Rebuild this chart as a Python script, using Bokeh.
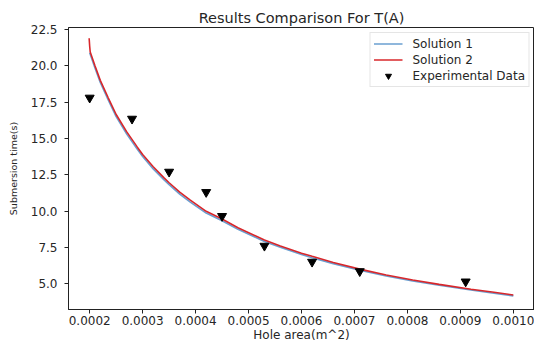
from bokeh.plotting import figure
from bokeh.models import Range1d, FixedTicker, NumeralTickFormatter, Legend, LegendItem
from bokeh.embed import file_html
from bokeh.resources import INLINE

# Solution 1 (blue)
area_sol1 = [0.00020, 0.00021, 0.00022, 0.000235, 0.00025, 0.00027, 0.00029, 0.00030,
             0.00032, 0.00034, 0.00035, 0.00037, 0.00039, 0.00042, 0.00045, 0.00048,
             0.00053, 0.00056, 0.00060, 0.00062, 0.00066, 0.00071, 0.00076, 0.00081,
             0.00086, 0.00092, 0.00096, 0.00100]
time_sol1 = [20.9, 19.85, 18.85, 17.65, 16.5, 15.3, 14.25, 13.76,
             12.9, 12.16, 11.82, 11.17, 10.62, 9.86, 9.33, 8.74,
             7.9, 7.5, 7.01, 6.79, 6.38, 5.92, 5.53, 5.18,
             4.89, 4.56, 4.36, 4.16]

# Solution 2 (red)
area_sol2 = [0.000199, 0.000200, 0.000201, 0.00021, 0.00022, 0.000235, 0.00025, 0.00027,
             0.00029, 0.00030, 0.00032, 0.00034, 0.00035, 0.00037, 0.00039, 0.00042,
             0.00045, 0.00048, 0.00053, 0.00056, 0.00060, 0.00062, 0.00066, 0.00071,
             0.00076, 0.00081, 0.00086, 0.00092, 0.00096, 0.00100]
time_sol2 = [21.9, 21.35, 20.95, 20.0, 19.0, 17.8, 16.65, 15.45,
             14.4, 13.9, 13.05, 12.3, 11.95, 11.3, 10.75, 9.98,
             9.45, 8.85, 8.0, 7.6, 7.1, 6.88, 6.46, 6.0,
             5.6, 5.25, 4.95, 4.62, 4.42, 4.22]

# Experimental data
exp_area = [0.00020, 0.00028, 0.00035, 0.00042, 0.00045, 0.00053, 0.00062, 0.00071, 0.00091]
exp_time = [17.8, 16.35, 12.7, 11.3, 9.65, 7.6, 6.5, 5.85, 5.14]

x_ticks = [0.0002, 0.0003, 0.0004, 0.0005, 0.0006, 0.0007, 0.0008, 0.0009, 0.0010]
y_ticks = [5.0, 7.5, 10.0, 12.5, 15.0, 17.5, 20.0, 22.5]

FONT = "DejaVu Sans"
TXT = "#262626"

p = figure(width=534, height=344, output_backend="svg", toolbar_location=None,
           x_range=Range1d(0.00016, 0.00104), y_range=Range1d(3.22, 22.64),
           min_border_left=68, min_border_right=0, min_border_top=27, min_border_bottom=33,
           title="Results Comparison For T(A)")

p.title.text_font = FONT
p.title.text_font_size = "14.5px"
p.title.text_font_style = "normal"
p.title.text_color = TXT
p.title.align = "center"
p.title.standoff = 4

p.xgrid.visible = False
p.ygrid.visible = False
p.outline_line_color = "#222222"
p.outline_line_width = 1

for ax in (p.xaxis[0], p.yaxis[0]):
    ax.axis_line_color = "#222222"
    ax.major_tick_line_color = "#222222"
    ax.minor_tick_line_color = None
    ax.major_tick_in = 0
    ax.major_tick_out = 4
    ax.major_label_text_font = FONT
    ax.major_label_text_font_size = "12px"
    ax.major_label_text_color = TXT
    ax.axis_label_text_font = FONT
    ax.axis_label_text_font_style = "normal"
    ax.axis_label_text_color = TXT

p.xaxis.ticker = FixedTicker(ticks=x_ticks)
p.yaxis.ticker = FixedTicker(ticks=y_ticks)
p.xaxis.formatter = NumeralTickFormatter(format="0.0000")
p.yaxis.formatter = NumeralTickFormatter(format="0.0")
p.xaxis.major_label_standoff = 2
p.yaxis.major_label_standoff = 7
p.xaxis.axis_label = "Hole area(m^2)"
p.yaxis.axis_label = "Submersion time(s)"
p.xaxis.axis_label_text_font_size = "12px"
p.yaxis.axis_label_text_font_size = "9.5px"
p.xaxis.axis_label_standoff = 0
p.yaxis.axis_label_standoff = 9

r1 = p.line(area_sol1, time_sol1, line_color="#6a9fd0", line_width=1.6)
r2 = p.line(area_sol2, time_sol2, line_color="#d8272b", line_width=1.6)
r3 = p.scatter(exp_area, exp_time, marker="inverted_triangle", size=9,
               fill_color="black", line_color="black")

legend = Legend(items=[LegendItem(label="Solution 1", renderers=[r1]),
                       LegendItem(label="Solution 2", renderers=[r2]),
                       LegendItem(label="Experimental Data", renderers=[r3])],
                location="top_right")
legend.label_text_font = FONT
legend.label_text_font_size = "12px"
legend.label_text_color = TXT
legend.label_height = 15
legend.glyph_height = 15
legend.glyph_width = 29
legend.spacing = 1
legend.padding = 3
legend.margin = 5
legend.label_standoff = 10
legend.border_line_color = "#cccccc"
legend.border_line_width = 1
legend.background_fill_alpha = 0.85
p.add_layout(legend)

open("out.html", "w").write(file_html(p, INLINE))
